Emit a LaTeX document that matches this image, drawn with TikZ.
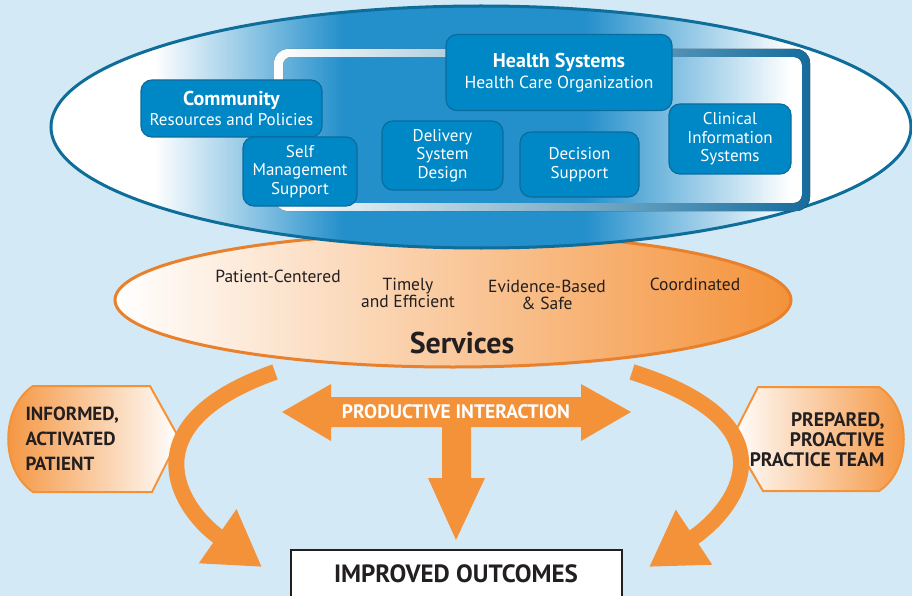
\documentclass[tikz,border=0pt]{standalone}
\usepackage{fontspec}
\setmainfont{PT Sans}
\usepackage{tikz}
\usetikzlibrary{arrows.meta,positioning}

\definecolor{bgblue}{HTML}{D3E9F5}
\definecolor{ovaledge}{HTML}{0E6D99}
\definecolor{ovalblue}{HTML}{238FCB}
\definecolor{boxblue}{HTML}{0088C6}
\definecolor{boxedge}{HTML}{0B6C9C}
\definecolor{framedark}{HTML}{156C9C}
\definecolor{arrorange}{HTML}{F4923A}
\definecolor{svcedge}{HTML}{E9802C}
\definecolor{darktext}{HTML}{231F20}

\pgfdeclarehorizontalshading{ovalshade}{100bp}{color(0bp)=(white); color(31bp)=(white); color(42bp)=(ovalblue); color(56bp)=(ovalblue); color(68bp)=(white); color(100bp)=(white)}

\begin{document}
\begin{tikzpicture}[x=1pt,y=-1pt,
    bluebox/.style={draw=boxedge, line width=1.2pt, fill=boxblue, rounded corners=11pt,
        text=white, align=center, inner sep=0pt, font=\fontsize{17}{18.5}\selectfont},
    svctext/.style={text=darktext, align=center, font=\fontsize{17.5}{17}\selectfont},
    hexlabel/.style={text=darktext, font=\bfseries\fontsize{19}{25}\selectfont},
    bigarrow/.style={draw=arrorange, line width=16pt, -{Triangle[length=54pt,width=62pt]}}]
    \useasboundingbox (0,0) rectangle (912,596);
    \clip (0,0) rectangle (912,596);
    \fill[bgblue] (0,0) rectangle (912,596);

    % services oval
    \draw[svcedge, line width=3pt, left color=white, right color=arrorange]
        (453,300) ellipse [x radius=338, y radius=67];
    % big oval with the care model
    \draw[ovaledge, line width=3pt, shading=ovalshade]
        (481,127) ellipse [x radius=430, y radius=121];
    % health system frame
    \fill[even odd rule, left color=white, right color=framedark]
        [rounded corners=14pt] (274,49) rectangle (810,211)
        [rounded corners=8pt] (283,57) rectangle (802,203);

    \node[bluebox, minimum width=181pt, minimum height=57pt] (community) at (231.5,108.5)
        {{\bfseries\fontsize{20}{20}\selectfont Community}\\[2pt]Resources and Policies};
    \node[bluebox, minimum width=114pt, minimum height=69pt] (selfmgmt) at (300,171.5)
        {Self\\Management\\Support};
    \node[bluebox, minimum width=226pt, minimum height=76pt] (healthsys) at (559,72.5)
        {{\bfseries\fontsize{20}{20}\selectfont Health Systems}\\[2pt]{\fontsize{17.5}{18}\selectfont Health Care Organization}};
    \node[bluebox, minimum width=121pt, minimum height=69pt] (delivery) at (442.5,155.5)
        {Delivery\\System\\Design};
    \node[bluebox, minimum width=119pt, minimum height=65pt] (decision) at (579.5,164.5)
        {Decision\\Support};
    \node[bluebox, minimum width=122pt, minimum height=70pt] (clinical) at (730,139)
        {Clinical\\Information\\Systems};

    \node[svctext] (centered) at (278,276) {Patient-Centered};
    \node[svctext] (timely) at (408,293) {Timely\\and Efficient};
    \node[svctext] (evidence) at (547,295) {Evidence-Based\\\& Safe};
    \node[svctext] (coordinated) at (695,284) {Coordinated};
    \node[text=darktext, font=\bfseries\fontsize{30}{32}\selectfont] (services) at (462,343) {Services};

    % patient and team
    \draw[arrorange, line width=2pt, left color=arrorange, right color=white]
        (33,386) -- (150,386) -- (179,438) -- (152,492) -- (33,492)
        .. controls (0,470) and (0,408) .. cycle;
    \node[hexlabel, anchor=west, align=left] (patient) at (22,439)
        {INFORMED,\\ACTIVATED\\PATIENT};
    \draw[arrorange, line width=2pt, left color=white, right color=arrorange]
        (879,387) -- (758,387) -- (732,438) -- (763,491) -- (879,491)
        .. controls (912,470) and (912,408) .. cycle;
    \node[hexlabel, anchor=east, align=right, font=\bfseries\fontsize{19.5}{20}\selectfont] (team) at (888,440)
        {PREPARED,\\PROACTIVE\\PRACTICE TEAM};

    % productive interaction
    \fill[arrorange] (282,412) -- (331,384) -- (331,397) -- (581,397) -- (581,384) -- (631,412)
        -- (581,441) -- (581,427) -- (471,427) -- (471,478) -- (485,478) -- (456,540)
        -- (428,478) -- (442,478) -- (442,427) -- (331,427) -- (331,441) -- cycle;
    \node[text=white, font=\bfseries\fontsize{19.5}{19.5}\selectfont] (interaction) at (456,412)
        {PRODUCTIVE INTERACTION};

    \coordinate (leftstart) at (275,372);
    \coordinate (lefttip) at (262,567);
    \coordinate (rightstart) at (632,372);
    \coordinate (righttip) at (649,567);
    \draw[bigarrow] (leftstart) .. controls (125,425) and (180,510) .. (lefttip);
    \draw[bigarrow] (rightstart) .. controls (800,425) and (735,510) .. (righttip);

    \node[draw=darktext, line width=1.5pt, fill=white, minimum width=331pt, minimum height=60pt,
        anchor=north west, inner sep=0pt] (outbox) at (290,549) {};
    \node[text=darktext, font=\bfseries\fontsize{25}{25}\selectfont] (outcomes) at (456,574)
        {IMPROVED OUTCOMES};
\end{tikzpicture}
\end{document}
